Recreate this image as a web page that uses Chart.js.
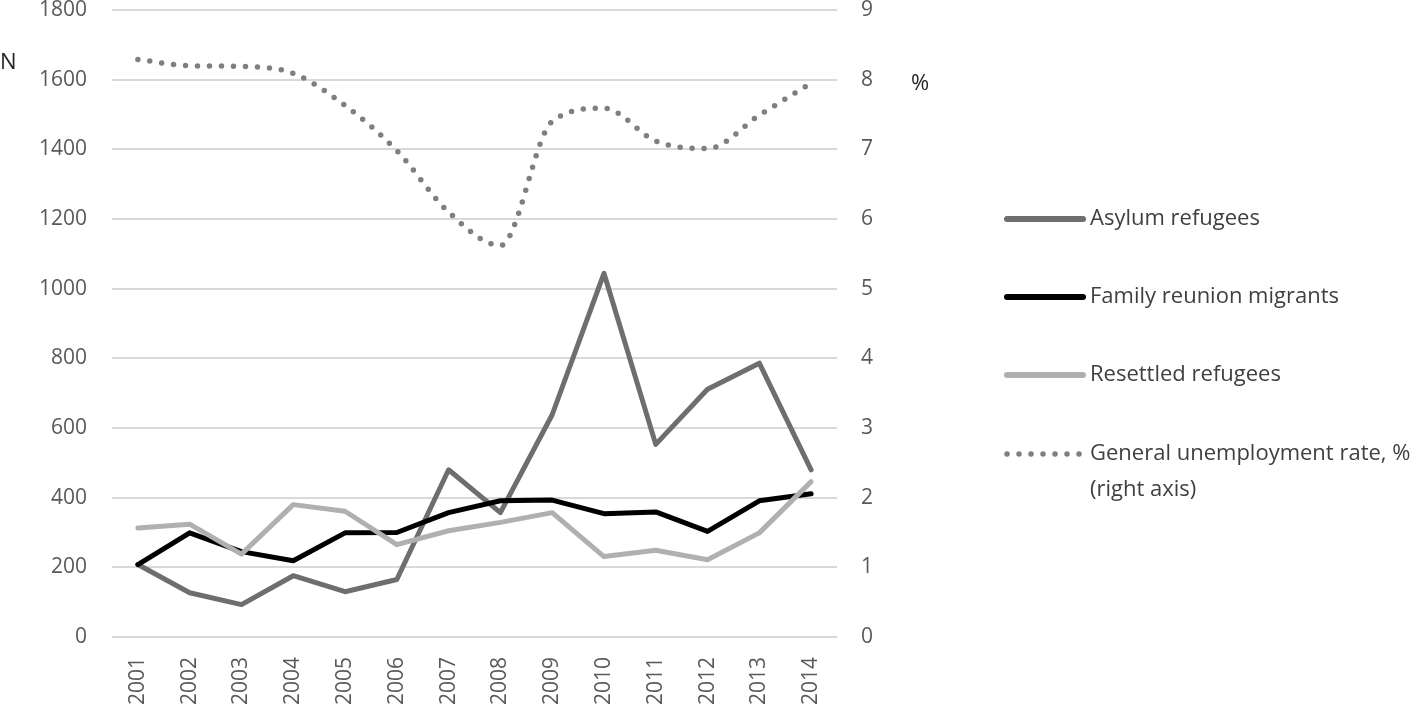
<!DOCTYPE html>
<html>
<head>
<meta charset="utf-8">
<script src="https://cdn.jsdelivr.net/npm/chart.js@4.4.1/dist/chart.umd.min.js"></script>
<style>
  html, body { margin: 0; padding: 0; background: #fff; }
  #wrap { position: relative; width: 1418px; height: 706px; }
</style>
</head>
<body>
<div id="wrap"><canvas id="chart" width="1418" height="706"></canvas></div>
<script>
// Data
const years = ['2001', '2002', '2003', '2004', '2005', '2006', '2007', '2008', '2009', '2010', '2011', '2012', '2013', '2014'];
const asylumRefugees = [208, 127, 93, 176, 130, 165, 480, 357, 638, 1044, 553, 711, 786, 480];
const familyReunion = [208, 299, 245, 219, 299, 300, 357, 391, 393, 354, 359, 303, 391, 411];
const resettledRefugees = [313, 324, 238, 380, 361, 265, 305, 329, 357, 231, 249, 222, 299, 446];
const unemploymentRate = [8.29, 8.2, 8.19, 8.09, 7.63, 6.98, 6.1, 5.62, 7.4, 7.59, 7.12, 7.01, 7.49, 7.95];
const leftTicks = [0, 200, 400, 600, 800, 1000, 1200, 1400, 1600, 1800];
const rightTicks = [0, 1, 2, 3, 4, 5, 6, 7, 8, 9];

const FONT = '"Open Sans", "Liberation Sans", sans-serif';
const TICK_COLOR = '#595959';
const GRID_COLOR = '#d9d9d9';

// legend entries drawn at the right side of the canvas
const legendItems = [
    { label: ['Asylum refugees'], color: '#6e6e6e', dotted: false },
    { label: ['Family reunion migrants'], color: '#000000', dotted: false },
    { label: ['Resettled refugees'], color: '#b0b0b0', dotted: false },
    { label: ['General unemployment rate, %', '(right axis)'], color: '#7f7f7f', dotted: true }
];

const sideLabels = {
    id: 'sideLabels',
    afterDraw(chart) {
        const ctx = chart.ctx;
        ctx.save();
        ctx.font = '22px ' + FONT;
        ctx.fillStyle = '#262626';
        ctx.textBaseline = 'middle';
        ctx.textAlign = 'left';
        ctx.fillText('N', 0, 63);
        ctx.fillText('%', 911, 84);

        // legend
        const x0 = 1007, x1 = 1083;
        const rows = [219, 297, 375, 454];
        legendItems.forEach((item, i) => {
            const y = rows[i];
            ctx.beginPath();
            ctx.lineCap = 'round';
            ctx.lineWidth = item.dotted ? 5.5 : 6;
            ctx.strokeStyle = item.color;
            ctx.setLineDash(item.dotted ? [0, 12] : []);
            ctx.moveTo(x0, y);
            ctx.lineTo(x1, y);
            ctx.stroke();
            ctx.setLineDash([]);
            ctx.fillStyle = '#404040';
            ctx.font = '22px ' + FONT;
            item.label.forEach((line, j) => {
                ctx.fillText(line, 1090, y + j * 36);
            });
        });
        ctx.restore();
    }
};

function noPad(scale) {
    scale.paddingTop = 0;
    scale.paddingBottom = 0;
    scale.paddingLeft = 0;
    scale.paddingRight = 0;
}

const ctx = document.getElementById('chart').getContext('2d');
new Chart(ctx, {
    type: 'line',
    data: {
        labels: years,
        datasets: [
            {
                label: 'General unemployment rate, % (right axis)',
                data: unemploymentRate,
                yAxisID: 'y1',
                borderColor: '#7f7f7f',
                borderWidth: 5.5,
                borderDash: [0, 12],
                borderCapStyle: 'round',
                tension: 0.4,
                cubicInterpolationMode: 'monotone',
                pointRadius: 0,
                fill: false
            },
            {
                label: 'Resettled refugees',
                data: resettledRefugees,
                yAxisID: 'y',
                borderColor: '#b0b0b0',
                borderWidth: 5,
                borderCapStyle: 'round',
                borderJoinStyle: 'round',
                tension: 0,
                pointRadius: 0,
                fill: false
            },
            {
                label: 'Family reunion migrants',
                data: familyReunion,
                yAxisID: 'y',
                borderColor: '#000000',
                borderWidth: 5,
                borderCapStyle: 'round',
                borderJoinStyle: 'round',
                tension: 0,
                pointRadius: 0,
                fill: false
            },
            {
                label: 'Asylum refugees',
                data: asylumRefugees,
                yAxisID: 'y',
                borderColor: '#6e6e6e',
                borderWidth: 5,
                borderCapStyle: 'round',
                borderJoinStyle: 'round',
                tension: 0,
                pointRadius: 0,
                fill: false
            }
        ]
    },
    options: {
        responsive: false,
        animation: false,
        layout: {
            padding: { left: 0, right: 511, top: 10, bottom: 0 }
        },
        plugins: {
            legend: { display: false },
            title: { display: false },
            tooltip: { enabled: false }
        },
        scales: {
            x: {
                offset: true,
                grid: { display: false },
                border: { display: false },
                ticks: {
                    color: TICK_COLOR,
                    font: { family: FONT, size: 21 },
                    minRotation: 90,
                    maxRotation: 90,
                    padding: 12
                },
                afterFit(scale) { scale.height = 69; noPad(scale); }
            },
            y: {
                position: 'left',
                min: 0,
                max: 1800,
                afterBuildTicks(scale) { scale.ticks = leftTicks.map(v => ({ value: v })); },
                grid: { color: GRID_COLOR, lineWidth: 2, drawTicks: false },
                border: { display: false },
                ticks: {
                    color: TICK_COLOR,
                    font: { family: FONT, size: 21 },
                    padding: 25,
                    callback: v => String(v)
                },
                afterFit(scale) { scale.width = 112; noPad(scale); }
            },
            y1: {
                position: 'right',
                min: 0,
                max: 9,
                afterBuildTicks(scale) { scale.ticks = rightTicks.map(v => ({ value: v })); },
                grid: { display: false, drawTicks: false },
                border: { display: false },
                ticks: {
                    color: TICK_COLOR,
                    font: { family: FONT, size: 21 },
                    padding: 24,
                    callback: v => String(v)
                },
                afterFit(scale) { scale.width = 70; noPad(scale); }
            }
        }
    },
    plugins: [sideLabels]
});
</script>
</body>
</html>
